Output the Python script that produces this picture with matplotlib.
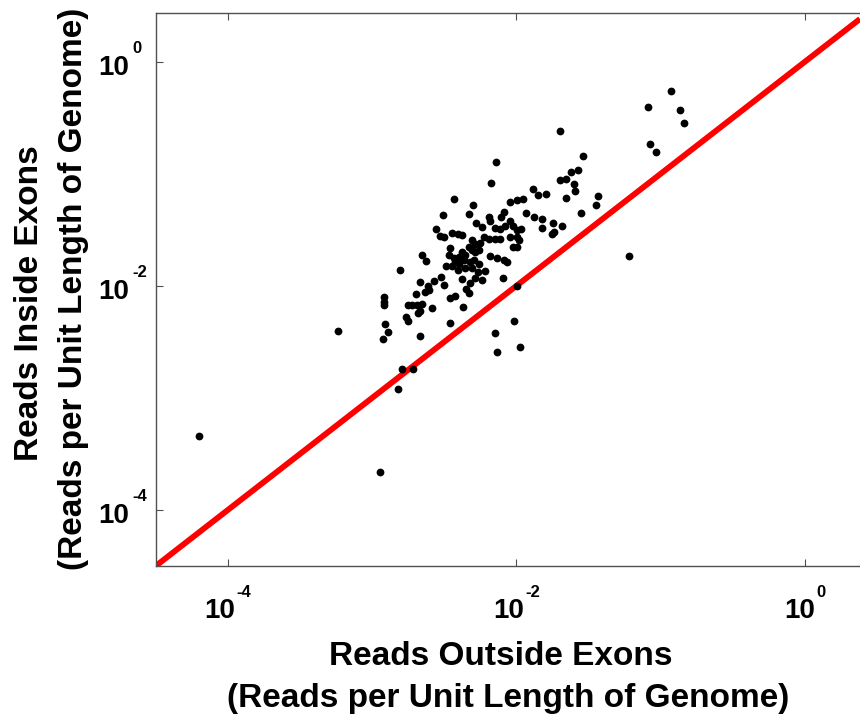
import matplotlib
matplotlib.use('Agg')
import matplotlib.pyplot as plt
from matplotlib.ticker import NullLocator

# ---------------- data ----------------
reads_outside = [
    6.35e-5, 5.77e-4, 1.13e-3, 1.52e-3, 1.62e-3, 1.91e-3, 6.04e-2, 3.70e-2, 8.22e-2, 0.1174,
    0.1355, 0.146, 8.36e-2, 9.30e-2, 3.56e-2, 2.79e-2, 2.90e-2, 1.99e-2, 2.39e-2, 2.65e-2,
    2.02e-2, 2.22e-2, 2.49e-2, 2.54e-2, 2.21e-2, 1.60e-2, 1.40e-2, 1.31e-2, 7.27e-3, 6.71e-3,
    9.09e-3, 1.01e-2, 1.118e-2, 3.72e-3, 4.98e-3, 3.12e-3, 4.72e-3, 6.45e-3, 6.52e-3, 7.78e-3,
    8.26e-3, 1.173e-2, 1.318e-2, 1.495e-2, 1.50e-2, 1.805e-2, 2.07e-2, 1.81e-2, 1.76e-2, 5.24e-3,
    5.78e-3, 7.10e-3, 7.74e-3, 8.39e-3, 2.78e-3, 2.95e-3, 3.17e-3, 3.58e-3, 3.93e-3, 5.93e-3,
    4.20e-3, 9.09e-3, 9.53e-3, 1.016e-2, 1.083e-2, 9.09e-3, 1.008e-2, 9.53e-3, 1.016e-2, 1.049e-2,
    6.43e-3, 7.07e-3, 7.74e-3, 4.93e-3, 5.20e-3, 5.63e-3, 4.67e-3, 4.93e-3, 5.20e-3, 5.48e-3,
    4.20e-3, 4.43e-3, 3.98e-3, 4.31e-3, 4.80e-3, 5.06e-3, 5.48e-3, 3.78e-3, 6.60e-3, 7.35e-3,
    8.17e-3, 8.62e-3, 3.49e-3, 3.40e-3, 3.69e-3, 3.25e-3, 3.58e-3, 4.03e-3, 2.22e-3, 2.38e-3,
    1.55e-3, 8.06e-3, 2.14e-3, 2.42e-3, 2.70e-3, 3.00e-3, 3.13e-3, 3.96e-3, 4.43e-3, 4.95e-3,
    5.45e-3, 6.10e-3, 4.22e-3, 4.80e-3, 5.20e-3, 4.50e-3, 4.72e-3, 5.81e-3, 2.02e-3, 2.34e-3,
    2.47e-3, 1.20e-3, 1.20e-3, 1.20e-3, 1.76e-3, 1.90e-3, 2.06e-3, 2.23e-3, 2.16e-3, 2.09e-3,
    2.62e-3, 3.46e-3, 3.76e-3, 4.24e-3, 1.71e-3, 1.76e-3, 1.23e-3, 1.28e-3, 1.18e-3, 2.13e-3,
    3.49e-3, 9.58e-3, 7.15e-3, 1.066e-2, 7.38e-3, 1.016e-2,
]
reads_inside = [
    4.59e-4, 3.97e-3, 2.16e-4, 1.20e-3, 1.82e-3, 1.80e-3, 1.85e-2, 6.31e-2, 0.390, 0.546,
    0.369, 0.2845, 0.1848, 0.1568, 5.25e-2, 4.42e-2, 0.1445, 0.2424, 0.1040, 0.1070,
    8.71e-2, 8.90e-2, 8.08e-2, 7.07e-2, 6.06e-2, 6.62e-2, 6.44e-2, 7.29e-2, 0.1277, 8.30e-2,
    5.62e-2, 5.81e-2, 5.90e-2, 6.00e-2, 5.30e-2, 4.32e-2, 4.34e-2, 4.13e-2, 3.80e-2, 4.13e-2,
    4.57e-2, 4.45e-2, 4.13e-2, 3.92e-2, 3.31e-2, 3.63e-2, 3.41e-2, 3.04e-2, 2.92e-2, 3.66e-2,
    3.32e-2, 3.31e-2, 3.18e-2, 3.41e-2, 3.24e-2, 2.80e-2, 2.74e-2, 2.97e-2, 2.89e-2, 2.72e-2,
    2.83e-2, 3.78e-2, 3.41e-2, 3.17e-2, 3.24e-2, 2.75e-2, 2.75e-2, 2.23e-2, 2.23e-2, 2.56e-2,
    2.59e-2, 2.59e-2, 2.64e-2, 2.56e-2, 2.36e-2, 2.42e-2, 2.23e-2, 2.08e-2, 2.01e-2, 2.08e-2,
    2.01e-2, 1.88e-2, 1.81e-2, 1.70e-2, 1.64e-2, 1.70e-2, 1.58e-2, 1.64e-2, 1.84e-2, 1.76e-2,
    1.70e-2, 1.64e-2, 2.19e-2, 1.88e-2, 1.76e-2, 1.51e-2, 1.51e-2, 1.58e-2, 1.87e-2, 1.66e-2,
    1.37e-2, 1.18e-2, 1.086e-2, 1.00e-2, 1.10e-2, 1.21e-2, 1.01e-2, 1.38e-2, 1.44e-2, 1.44e-2,
    1.325e-2, 1.35e-2, 1.15e-2, 1.06e-2, 1.17e-2, 9.44e-3, 8.61e-3, 1.12e-2, 8.52e-3, 8.78e-3,
    9.25e-3, 7.98e-3, 7.23e-3, 6.73e-3, 6.73e-3, 6.73e-3, 6.73e-3, 6.87e-3, 6.01e-3, 5.71e-3,
    6.32e-3, 7.85e-3, 8.09e-3, 6.42e-3, 5.26e-3, 4.84e-3, 4.52e-3, 3.90e-3, 3.38e-3, 3.59e-3,
    4.68e-3, 4.84e-3, 3.78e-3, 2.87e-3, 2.59e-3, 1.00e-2,
]
tick_values = [1e-4, 1e-2, 1e0]
tick_exponents = ['-4', '-2', '0']
xlabel_lines = ['Reads Outside Exons', '(Reads per Unit Length of Genome)']
ylabel_lines = ['Reads Inside Exons', '(Reads per Unit Length of Genome)']

# ---------------- figure ----------------
plt.rcParams['font.family'] = ['Liberation Sans', 'DejaVu Sans']
W_PX, H_PX = 860, 719
fig = plt.figure(figsize=(W_PX / 100, H_PX / 100), dpi=100)
left, right, top, bottom = 155.7, 860.0, 13.0, 566.0
ax = fig.add_axes([left / W_PX, 1 - bottom / H_PX, (right - left) / W_PX, (bottom - top) / H_PX])
ax.set_xscale('log')
ax.set_yscale('log')
ax.set_xlim(10 ** -4.5, 10 ** 0.381)
ax.set_ylim(10 ** -4.5, 10 ** 0.434)

ax.axline((tick_values[0], tick_values[0]), (tick_values[2], tick_values[2]),
          color='#ff0000', lw=4.2, zorder=2, solid_capstyle='butt')
ax.plot(reads_outside, reads_inside, linestyle='none', marker='o', color='black',
        ms=5.6, mew=0, zorder=3, clip_on=True)

ax.set_xticks(tick_values)
ax.set_yticks(tick_values)
ax.xaxis.set_minor_locator(NullLocator())
ax.yaxis.set_minor_locator(NullLocator())
ax.tick_params(which='both', direction='in', length=5, width=0.8, color='#505050',
               labelbottom=False, labelleft=False, top=True, right=False)
for s in ax.spines.values():
    s.set_color('#505050')
    s.set_linewidth(1.0)
ax.spines['right'].set_visible(False)

# tick labels: "10" with raised exponent
xpairs = []
for v, e in zip(tick_values, tick_exponents):
    b = ax.annotate('10', xy=(v, 0), xycoords=('data', 'axes fraction'), xytext=(0, -51.5),
                    textcoords='offset pixels', ha='left', va='baseline', fontsize=20,
                    fontweight='bold', annotation_clip=False)
    s = ax.annotate(e, xy=(v, 0), xycoords=('data', 'axes fraction'), xytext=(0, -31),
                    textcoords='offset pixels', ha='left', va='baseline', fontsize=12,
                    fontweight='bold', annotation_clip=False)
    xpairs.append((b, s))
for v, e in zip(tick_values, tick_exponents):
    ax.annotate('10', xy=(0, v), xycoords=('axes fraction', 'data'), xytext=(-26.7, -13.3),
                textcoords='offset pixels', ha='right', va='baseline', fontsize=20,
                fontweight='bold', annotation_clip=False)
    ax.annotate(e, xy=(0, v), xycoords=('axes fraction', 'data'), xytext=(-23.2, 8.7),
                textcoords='offset pixels', ha='left', va='baseline', fontsize=12,
                fontweight='bold', annotation_clip=False)

fig.canvas.draw()
r = fig.canvas.get_renderer()
for b, s in xpairs:
    wb = b.get_window_extent(r).width
    ws = s.get_window_extent(r).width
    tot = wb + 1.5 + ws
    b.xyann = (-tot / 2, -51.5)
    s.xyann = (-tot / 2 + wb + 1.5, -31)

# axis labels
fig.text(501 / W_PX, 1 - 665 / H_PX, xlabel_lines[0], ha='center', va='baseline',
         fontsize=24, fontweight='bold')
fig.text(508.5 / W_PX, 1 - 707 / H_PX, xlabel_lines[1], ha='center', va='baseline',
         fontsize=24, fontweight='bold')
fig.text(38.5 / W_PX, 1 - 303.5 / H_PX, ylabel_lines[0], ha='center', va='baseline',
         rotation=90, rotation_mode='anchor', fontsize=24, fontweight='bold')
fig.text(82 / W_PX, 1 - 288.5 / H_PX, ylabel_lines[1], ha='center', va='baseline',
         rotation=90, rotation_mode='anchor', fontsize=24, fontweight='bold')

fig.savefig('out.png', dpi=100)
